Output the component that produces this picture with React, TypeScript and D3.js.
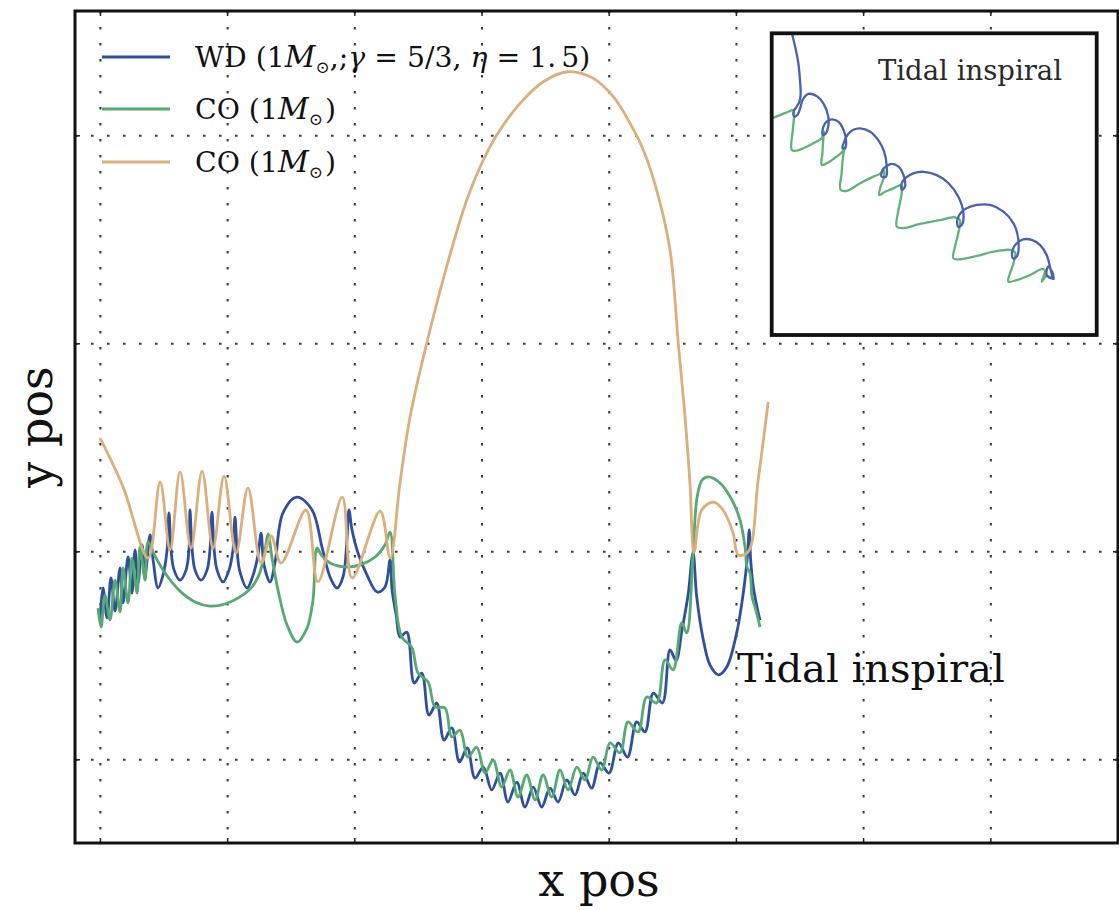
import React from "react";
import * as d3 from "d3";

const W = 1119;
const H = 910;

// ---- main axes (arbitrary position units, grid every 10) ----
const xDomain: [number, number] = [-2, 80];
const yDomain: [number, number] = [-14, 26];
const xTicks = [0, 10, 20, 30, 40, 50, 60, 70, 80];
const yTicks = [-10, 0, 10, 20];

const legendLabels = ["WD", "CO", "CO"];
const seriesColors = ["#2E4F9E", "#55AA72", "#DBAE7C"];

// WD track (x, y)
const wdTrack: [number, number][] = [
  [-0.03, -3.28], [0.2, -1.74], [0.52, -3.18], [0.83, -1.26], [1.15, -2.85], [1.54, -0.78],
  [1.78, -2.46], [2.17, -0.25], [2.48, -1.98], [2.72, 0.09], [2.96, -1.5], [3.27, 0.33],
  [3.51, -1.12], [3.9, 0.81], [4.14, -0.39], [4.53, -1.74], [4.92, -1.12], [5.24, 0.09],
  [5.39, 1.87], [5.55, 0.09], [5.79, -0.88], [6.26, -1.36], [6.73, -0.88], [6.97, 0.18],
  [7.04, 2.01], [7.2, 0.18], [7.44, -0.88], [7.91, -1.36], [8.38, -0.88], [8.62, 0.18],
  [8.77, 1.91], [8.93, 0.18], [9.17, -0.88], [9.64, -1.45], [10.11, -0.88], [10.42, 0.09],
  [10.58, 1.67], [10.74, 0.09], [10.97, -0.97], [11.53, -1.74], [12.0, -1.12], [12.39, -0.15],
  [12.63, 0.9], [12.86, -0.63], [13.33, -1.45], [13.72, -0.54], [14.35, 1.87], [15.45, 2.63],
  [16.64, 2.01], [17.42, 0.23], [18.05, -1.21], [18.6, -1.74], [19.07, -1.21], [19.38, 0.57],
  [19.54, 2.01], [19.78, 1.05], [20.25, -0.06], [20.96, -1.12], [21.75, -1.93], [22.37, -1.69],
  [22.77, -0.39], [22.93, -1.84], [23.25, -3.04], [23.56, -4.1], [24.08, -3.86], [24.67, -6.31],
  [25.26, -5.83], [25.83, -7.85], [26.44, -7.27], [27.01, -9.05], [27.62, -8.47], [28.23, -10.11],
  [28.84, -9.43], [29.45, -10.88], [30.1, -10.35], [30.76, -11.45], [31.42, -10.64], [32.04, -12.03],
  [32.73, -11.07], [33.38, -12.27], [34.03, -11.31], [34.69, -12.27], [35.35, -11.36], [35.98, -12.03],
  [36.66, -10.97], [37.31, -11.69], [37.96, -10.64], [38.62, -11.36], [39.28, -10.15], [39.98, -10.64],
  [40.72, -9.19], [41.44, -9.87], [42.16, -8.18], [42.81, -8.66], [43.47, -6.79], [44.18, -7.27],
  [44.78, -4.72], [45.25, -5.23], [45.72, -3.76], [46.2, -2.08], [46.59, -0.06], [46.88, -2.17],
  [47.4, -4.24], [47.92, -5.44], [48.58, -5.92], [49.24, -5.54], [50.02, -3.9], [50.54, -1.98],
  [50.86, -0.25], [51.01, 1.05], [51.12, -0.39], [51.33, -1.69], [51.72, -2.94], [51.86, -3.28],
];

// first CO track
const coTrackA: [number, number][] = [
  [-0.19, -2.71], [0.05, -3.62], [0.36, -2.08], [0.75, -3.28], [1.15, -1.36], [1.54, -2.89],
  [1.78, -0.78], [2.17, -2.46], [2.48, -0.3], [2.88, -1.98], [3.11, 0.23], [3.51, -1.36],
  [3.74, 0.47], [4.29, -0.2], [5.08, -1.02], [6.26, -1.89], [7.44, -2.41], [8.62, -2.61],
  [9.8, -2.51], [10.97, -2.17], [11.92, -1.69], [12.55, -0.97], [12.94, 0.09], [13.18, 0.86],
  [13.49, -0.3], [13.96, -1.84], [14.67, -3.52], [15.46, -4.34], [16.24, -3.67], [16.71, -2.32],
  [17.03, 0.18], [17.42, -0.2], [18.05, -0.54], [19.23, -0.73], [20.41, -0.63], [21.59, -0.25],
  [22.37, 0.33], [22.77, 0.95], [23.16, -2.08], [23.69, -4.1], [24.47, -4.58], [24.97, -5.83],
  [25.76, -6.26], [26.31, -7.46], [27.09, -7.51], [27.62, -8.9], [28.27, -8.57], [28.89, -9.87],
  [29.58, -9.39], [30.24, -10.64], [30.87, -10.01], [31.55, -11.31], [32.2, -10.49], [32.83, -11.79],
  [33.51, -10.73], [34.17, -11.93], [34.8, -10.73], [35.48, -11.79], [36.13, -10.49], [36.76, -11.45],
  [37.45, -10.35], [38.1, -10.97], [38.73, -9.87], [39.41, -10.49], [40.07, -9.19], [40.85, -9.67],
  [41.48, -8.18], [42.27, -8.66], [42.95, -6.98], [43.73, -7.27], [44.39, -5.2], [45.02, -5.68],
  [45.7, -3.42], [46.09, -3.9], [46.59, -0.06], [46.91, 2.63], [47.3, 3.45], [47.77, 3.6],
  [48.71, 3.31], [49.65, 2.49], [50.28, 1.53], [50.68, 0.23], [50.83, -0.73], [51.07, -1.02],
  [51.23, -2.17], [51.46, -2.65], [51.86, -3.62],
];

// second CO track
const coTrackB: [number, number][] = [
  [-0.03, 5.47], [1.78, 3.12], [3.74, -0.3], [4.69, 3.36], [5.47, 0.09], [6.26, 3.84],
  [7.12, 0.18], [7.99, 3.88], [8.85, 0.18], [9.72, 3.64], [10.66, -0.06], [11.6, 3.07],
  [12.63, -0.54], [13.42, 0.76], [14.2, -0.54], [16.16, 2.01], [17.1, -1.45], [19.01, 2.63],
  [19.79, -1.26], [21.99, 1.96], [22.78, -0.3], [23.55, 3.31], [24.34, 6.48], [25.65, 10.02],
  [27.22, 13.71], [28.8, 16.91], [29.98, 18.68], [31.16, 20.04], [32.99, 21.56], [34.82, 22.6],
  [36.78, 23.08], [38.75, 22.76], [40.32, 21.88], [41.64, 20.6], [42.68, 19.32], [43.73, 17.39],
  [44.78, 14.51], [45.43, 10.02], [45.96, 6.5], [46.35, 3.29], [46.67, -0.01],
  [47.27, 2.01], [48.19, 2.39], [48.95, 2.01], [49.74, 0.9], [50.14, -0.15], [50.92, -0.01],
  [51.71, 3.45], [52.5, 7.2],
];

// ---- inset (units 0..100 across its box) ----
const insetWd: [number, number][] = [
  [6.2, 100], [7.2, 95.6], [8.2, 90.1], [8.7, 84.5], [8.9, 79.6], [8.5, 77.3], [7.7, 75.7],
  [6.7, 74.0], [6.9, 72.4], [7.9, 72.9], [8.9, 75.7], [9.5, 77.9], [11.3, 79.9], [13.8, 79.2],
  [15.9, 76.8], [17.4, 72.4], [17.4, 69.1], [16.7, 66.9], [15.7, 66.3], [15.9, 69.1], [16.9, 70.7],
  [18.5, 71.5], [20.5, 70.7], [22.1, 68.0], [22.9, 64.1], [22.6, 61.9], [21.8, 61.9], [22.3, 64.1],
  [23.3, 66.3], [25.1, 68.0], [27.2, 68.5], [30.3, 67.4], [32.8, 64.6], [34.6, 60.8], [35.4, 55.8],
  [35.2, 52.5], [33.8, 52.5], [34.2, 54.9], [35.4, 56.0], [36.9, 56.7], [39.0, 55.8], [40.7, 52.5],
  [41.0, 49.2], [40.0, 48.1], [40.0, 50.3], [41.5, 52.3], [43.6, 53.6], [46.7, 54.1], [50.8, 53.0],
  [54.4, 50.3], [57.4, 45.9], [59.0, 40.3], [58.5, 36.5], [57.4, 35.9], [57.1, 38.1], [58.5, 40.9],
  [60.0, 42.0], [63.1, 43.1], [67.2, 43.1], [71.3, 40.9], [74.4, 37.0], [75.9, 31.5], [75.4, 26.0],
  [74.2, 25.4], [74.1, 28.2], [75.4, 30.4], [77.4, 31.7], [80.0, 31.5], [82.6, 29.8], [84.6, 26.5],
  [85.6, 22.7], [86.2, 18.8], [84.6, 19.9], [85.1, 22.7], [86.5, 20.4], [86.7, 18.2],
];
const insetCo: [number, number][] = [
  [0, 71.8], [2.6, 72.9], [5.1, 74.0], [6.7, 74.6], [6.9, 72.9], [6.5, 68.0], [6.2, 61.3],
  [7.7, 61.1], [10.8, 62.4], [13.8, 64.1], [15.4, 65.2], [16.1, 67.4], [15.9, 65.2], [15.6, 60.2],
  [15.4, 56.4], [16.9, 56.9], [20.0, 59.1], [21.8, 60.8], [22.6, 62.4], [22.1, 60.2], [21.5, 53.6],
  [21.2, 48.1], [23.1, 47.8], [27.2, 50.3], [31.3, 52.5], [33.3, 53.4], [34.4, 54.7], [34.6, 52.5],
  [33.5, 49.2], [33.1, 46.4], [34.9, 47.5], [37.4, 48.6], [40.0, 49.7], [40.0, 47.0], [39.0, 41.4],
  [38.5, 35.9], [40.5, 35.4], [45.6, 36.8], [51.8, 38.1], [56.4, 39.0], [57.9, 38.1], [57.4, 33.7],
  [56.4, 29.3], [55.9, 25.4], [57.9, 25.1], [63.1, 26.2], [68.2, 27.6], [73.3, 28.2], [74.9, 27.3],
  [74.4, 23.8], [73.3, 20.4], [72.8, 17.7], [75.4, 18.2], [79.5, 19.9], [83.1, 21.8], [84.1, 21.5],
  [83.6, 19.3], [83.1, 17.7], [84.6, 19.6], [86.2, 18.8],
];

const serif = "'DejaVu Serif', 'Liberation Serif', serif";

export default function App() {
  const left = 75, right = 1118, top = 11, bottom = 843;
  const x = d3.scaleLinear().domain(xDomain).range([left, right]);
  const y = d3.scaleLinear().domain(yDomain).range([bottom, top]);

  const inL = 771.7, inR = 1096.7, inT = 33.3, inB = 335;
  const ix = d3.scaleLinear().domain([0, 100]).range([inL, inR]);
  const iy = d3.scaleLinear().domain([0, 100]).range([inB, inT]);

  const line = d3
    .line<[number, number]>()
    .x((d) => x(d[0]))
    .y((d) => y(d[1]))
    .curve(d3.curveCatmullRom.alpha(0.5));
  const iline = d3
    .line<[number, number]>()
    .x((d) => ix(d[0]))
    .y((d) => iy(d[1]))
    .curve(d3.curveCatmullRom.alpha(0.5));

  const tracks = [wdTrack, coTrackA, coTrackB];
  const gridStyle = { stroke: "#333", strokeWidth: 2, strokeDasharray: "2.5,13.5" };

  const legendY = [57, 109, 162];

  return (
    <svg width={W} height={H} style={{ position: "absolute", left: 0, top: 0, background: "#fff" }}>
      <rect x={0} y={0} width={W} height={H} fill="#fff" />
      {/* grid */}
      {xTicks.filter((t) => x(t) < right - 2).map((t) => (
        <line key={"gx" + t} x1={x(t)} x2={x(t)} y1={top} y2={bottom} {...gridStyle} />
      ))}
      {yTicks.map((t) => (
        <line key={"gy" + t} x1={left} x2={right} y1={y(t)} y2={y(t)} {...gridStyle} />
      ))}
      {/* ticks */}
      {xTicks.map((t) => (
        <g key={"tx" + t}>
          <line x1={x(t)} x2={x(t)} y1={bottom} y2={bottom - 5} stroke="#222" strokeWidth={1.5} />
          <line x1={x(t)} x2={x(t)} y1={top} y2={top + 5} stroke="#222" strokeWidth={1.5} />
        </g>
      ))}
      {yTicks.map((t) => (
        <g key={"ty" + t}>
          <line x1={left} x2={left + 5} y1={y(t)} y2={y(t)} stroke="#222" strokeWidth={1.5} />
          <line x1={right} x2={right - 5} y1={y(t)} y2={y(t)} stroke="#222" strokeWidth={1.5} />
        </g>
      ))}

      {/* tracks */}
      {tracks.map((tr, i) => (
        <path key={"tr" + i} d={line(tr) || ""} fill="none" stroke={seriesColors[i]} strokeWidth={2.8} strokeLinejoin="round" />
      ))}

      {/* legend */}
      {legendLabels.map((lab, i) => (
        <g key={"lg" + i}>
          <line x1={102} x2={170} y1={legendY[i]} y2={legendY[i]} stroke={seriesColors[i]} strokeWidth={2.8} />
          <text x={195} y={legendY[i] + 10} fontFamily={serif} fontSize={28.3} fill="#111">
            {lab} (1<tspan fontStyle="italic" fontSize={30}>M</tspan>
            <tspan fontSize={17} dy={6}>⊙</tspan>
            {i === 0 ? (
              <>
                <tspan dy={-6}>,;</tspan>
                <tspan fontStyle="italic">γ</tspan>
                <tspan> = 5/3, </tspan>
                <tspan fontStyle="italic">η</tspan>
                <tspan> = 1.</tspan>
                <tspan dx={5}>5)</tspan>
              </>
            ) : (
              <tspan dy={-6} dx={2}>)</tspan>
            )}
          </text>
        </g>
      ))}

      {/* annotation */}
      <text x={737} y={682} fontFamily={serif} fontSize={40} fill="#111">Tidal inspiral</text>

      {/* inset */}
      <rect x={inL} y={inT} width={inR - inL} height={inB - inT} fill="#fff" stroke="none" />
      <path d={iline(insetCo) || ""} fill="none" stroke="#5DB37A" strokeWidth={2.3} />
      <path d={iline(insetWd) || ""} fill="none" stroke="#4862AE" strokeWidth={2.3} />
      <text x={970} y={80} textAnchor="middle" fontFamily={serif} fontSize={27.5} fill="#2a2a2a">Tidal inspiral</text>
      <rect x={inL} y={inT} width={inR - inL} height={inB - inT} fill="none" stroke="#111" strokeWidth={3.8} />

      {/* frame */}
      <rect x={left} y={top} width={right - left} height={bottom - top} fill="none" stroke="#111" strokeWidth={3} />

      {/* axis labels */}
      <text x={599} y={896} textAnchor="middle" fontFamily={serif} fontSize={46} fill="#111">x pos</text>
      <text transform="translate(52,427) rotate(-90)" textAnchor="middle" fontFamily={serif} fontSize={46} fill="#111">y pos</text>
    </svg>
  );
}
